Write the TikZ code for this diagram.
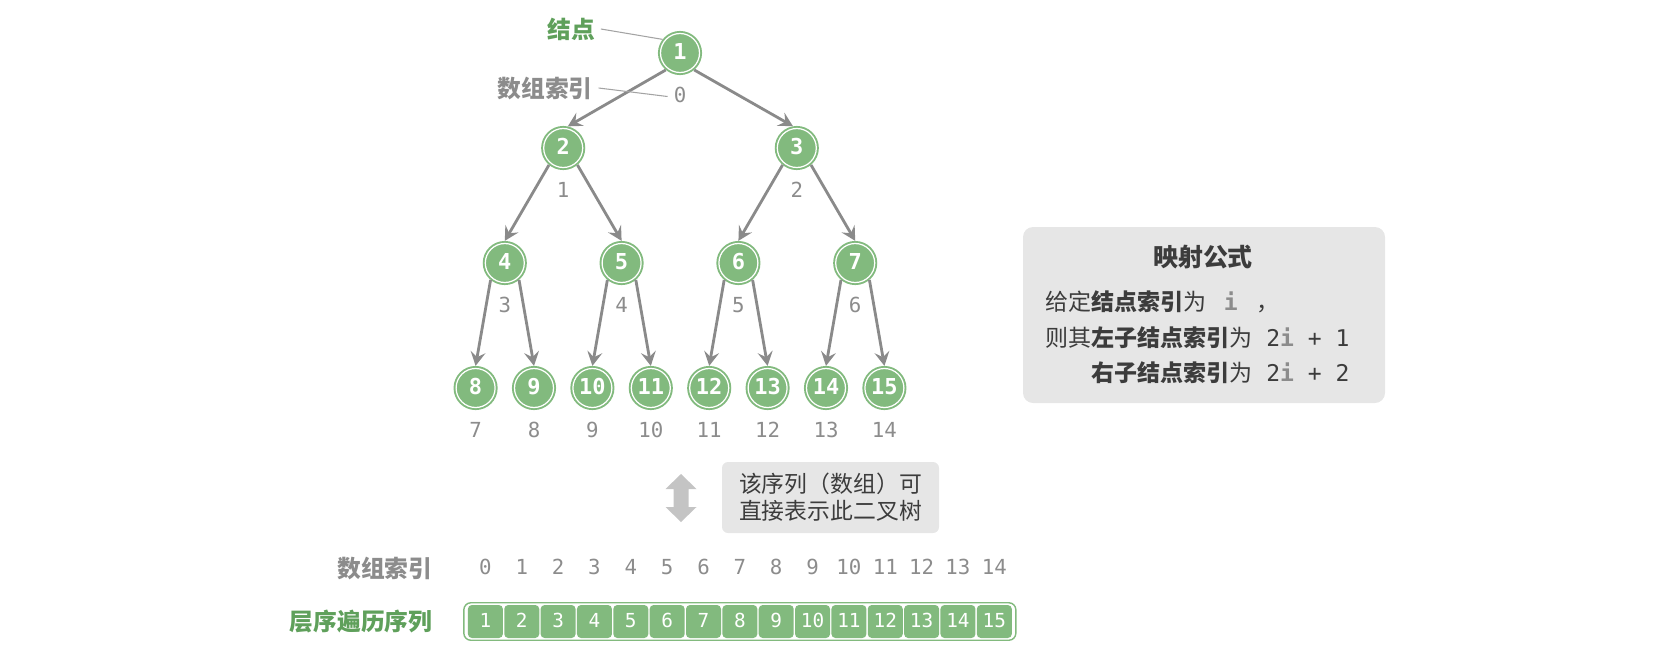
\documentclass[tikz,border=0pt]{standalone}
\usepackage{fontspec}
\setmainfont{Noto Sans CJK SC}
\newfontfamily\codefont{DejaVu Sans Mono}
\usepackage{tikz}
\usetikzlibrary{arrows.meta,calc,positioning}
\definecolor{BtGreen}{HTML}{82BA7E}
\definecolor{BtLabel}{HTML}{5FA05B}
\definecolor{BtEdge}{HTML}{8A8A8A}
\definecolor{BtIdx}{HTML}{8C8C8C}
\definecolor{BtPanel}{HTML}{E6E6E6}
\definecolor{BtInk}{HTML}{3C3C3C}
\definecolor{BtArrow}{HTML}{C4C4C4}
\newcommand{\idxi}{{\codefont\bfseries\color{BtIdx}i}}

\begin{document}
\begin{tikzpicture}[
  tnode/.style={circle,fill=BtGreen,draw=BtGreen,double=white,double distance=0.7pt,line width=1.1pt,minimum size=0.78cm,inner sep=0,outer sep=1.5pt,text=white,text height=0.73em,text depth=0pt,font=\codefont\bfseries\fontsize{12.5}{13}\selectfont},
  idx/.style={text=BtIdx,text height=0.73em,text depth=0pt,font=\codefont\fontsize{11.8}{12}\selectfont},
  edge/.style={draw=BtEdge,line width=1.6pt,-{Stealth[length=8pt,width=8.5pt,inset=3pt]}},
  note/.style={draw=BtIdx!80,line width=0.6pt},
  cell/.style={rounded corners=0.08cm,fill=BtGreen,minimum width=0.7cm,minimum height=0.66cm,inner sep=0,text=white,text height=0.73em,text depth=0pt,font=\codefont\fontsize{11}{11}\selectfont},
  tag/.style={font=\bfseries\fontsize{13.5}{14}\selectfont}
]
  \useasboundingbox (0,0) rectangle (33.6,-13.3);
  \node[tnode] (n1) at (13.6,-1.06) {1};
  \foreach \i in {2,3}
    \node[tnode] (n\i) at ({13.6+(\i-2.5)*4.672},-2.96) {\i};
  \foreach \i in {4,...,7}
    \node[tnode] (n\i) at ({13.6+(\i-5.5)*2.336},-5.26) {\i};
  \foreach \i in {8,...,15}
    \node[tnode] (n\i) at ({13.6+(\i-11.5)*1.168},-7.76) {\i};
  \foreach \i in {1,...,15} {
    \pgfmathtruncatemacro\k{\i-1}
    \node[idx] (i\i) at ($(n\i)+(0,-0.87)$) {\k};
  }
  \foreach \i in {2,...,15} {
    \pgfmathtruncatemacro\p{\i/2}
    \pgfmathtruncatemacro\st{mod(\i,2)==0 ? 230 : 310}
    \pgfmathtruncatemacro\en{\i<4 ? (mod(\i,2)==0 ? 78 : 100) : 90}
    \draw[edge] (n\p.\st) -- (n\i.\en);
  }
  \node[tag,text=BtLabel] (lblnode) at (11.42,-0.58) {结点};
  \node[tag,text=BtIdx] (lblidx) at (10.9,-1.76) {数组索引};
  \draw[note] (lblnode.east) -- (n1.142);
  \draw[note] (lblidx.east) -- (i1.west);

  \node[fill=BtPanel,rounded corners=0.2cm,minimum width=7.24cm,minimum height=3.52cm] (panel) at (24.08,-6.3) {};
  \node[text=BtInk,font=\bfseries\fontsize{14.2}{15}\selectfont] (ptitle) at (24.06,-5.14) {映射公式};
  \node[anchor=west,inner sep=0,text=BtInk,font=\fontsize{13.1}{14}\selectfont] (pline1) at (20.9,-6.04) {给定\textbf{结点索引}为\hspace{0.75em}\idxi\hspace{0.8em}，};
  \node[anchor=west,inner sep=0,text=BtInk,font=\fontsize{13.1}{14}\selectfont] (pline2) at (20.9,-6.76) {则其\textbf{左子结点索引}为\hspace{0.6em}{\codefont 2}\idxi{\codefont\ + 1}};
  \node[anchor=west,inner sep=0,text=BtInk,font=\fontsize{13.1}{14}\selectfont] (pline3) at (20.9,-7.46) {\phantom{则其}\textbf{右子结点索引}为\hspace{0.6em}{\codefont 2}\idxi{\codefont\ + 2}};

  \fill[BtArrow] (13.62,-9.48) -- (13.93,-9.78) -- (13.77,-9.78) -- (13.77,-10.14) -- (13.93,-10.14)
    -- (13.62,-10.44) -- (13.31,-10.14) -- (13.47,-10.14) -- (13.47,-9.78) -- (13.31,-9.78) -- cycle;
  \node[fill=BtPanel,rounded corners=0.12cm,minimum width=4.34cm,minimum height=1.42cm,align=left,text=BtInk,font=\fontsize{13}{15.4}\selectfont] (swapnote) at (16.61,-9.95) {该序列（数组）可\\直接表示此二叉树};

  \node[tag,text=BtIdx,anchor=east] (arrlbl) at (8.77,-11.36) {数组索引};
  \node[tag,text=BtLabel,anchor=east] (seqlbl) at (8.77,-12.43) {层序遍历序列};
  \node[draw=BtGreen,line width=0.8pt,rounded corners=0.14cm,minimum width=11.04cm,minimum height=0.75cm] (arr) at (14.797,-12.43) {};
  \foreach \k in {0,...,14} {
    \pgfmathtruncatemacro\v{\k+1}
    \node[idx] (a\k) at ({9.708+\k*0.727},-11.36) {\k};
    \node[cell] (c\v) at ({9.708+\k*0.727},-12.43) {\v};
  }
\end{tikzpicture}
\end{document}
